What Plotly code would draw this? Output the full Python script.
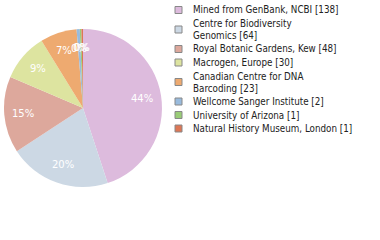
import math
import plotly.graph_objects as go

categories = [
    "Mined from GenBank, NCBI",
    "Centre for Biodiversity\nGenomics",
    "Royal Botanic Gardens, Kew",
    "Macrogen, Europe",
    "Canadian Centre for DNA\nBarcoding",
    "Wellcome Sanger Institute",
    "University of Arizona",
    "Natural History Museum, London",
]
counts = [138, 64, 48, 30, 23, 2, 1, 1]
colors = ["#ddbbdd", "#ccd8e4", "#dda89c", "#dde4a0", "#eeaa70", "#99bbdd", "#99cc77", "#dd7755"]

total = sum(counts)
pct_text = [f"{int(c * 100 // total)}%" for c in counts]

W, H = 380, 240
PX0, PX1, PY0, PY1 = 4, 162, 29, 187  # pie box in pixels
fig = go.Figure()
fig.add_trace(go.Pie(
    values=counts,
    labels=[c.replace("\n", " ") for c in categories],
    textinfo="none",
    marker=dict(colors=colors, line=dict(width=0)),
    sort=False,
    direction="clockwise",
    rotation=0,
    showlegend=False,
    hoverinfo="label+value+percent",
    domain=dict(x=[PX0 / W, PX1 / W], y=[1 - PY1 / H, 1 - PY0 / H]),
))

shapes = []
annotations = []

# percentage labels placed along each slice's mid-angle
cx, cy = (PX0 + PX1) / 2, (PY0 + PY1) / 2
R = (PX1 - PX0) / 2
cum = 0
for c, t in zip(counts, pct_text):
    mid = (cum + c / 2) / total * 2 * math.pi
    cum += c
    lx = cx + 0.76 * R * math.sin(mid)
    ly = cy - 0.76 * R * math.cos(mid)
    annotations.append(dict(
        x=lx / W, y=1 - ly / H, xref="paper", yref="paper",
        xanchor="center", yanchor="middle", showarrow=False,
        text=t, font=dict(family="DejaVu Sans", size=10, color="white"),
    ))

# custom legend
y = 10.0
for i, (name, c, col) in enumerate(zip(categories, counts, colors)):
    lines = name.split("\n")
    lines[-1] = lines[-1] + f" [{c}]"
    if i > 0:
        y += 13.5
    ys = []
    for j, ln in enumerate(lines):
        if j > 0:
            y += 12
        ys.append(y)
        annotations.append(dict(
            x=191 / W, y=1 - y / H, xref="paper", yref="paper",
            xanchor="left", yanchor="middle", showarrow=False,
            text=ln, font=dict(family="DejaVu Sans Condensed", size=9.75, color="#222222"),
        ))
    yc = sum(ys) / len(ys)
    shapes.append(dict(
        type="rect", xref="paper", yref="paper",
        x0=175 / W, x1=182 / W, y0=1 - (yc - 3.5) / H, y1=1 - (yc + 3.5) / H,
        fillcolor=col, line=dict(color="#888888", width=1),
    ))

fig.update_layout(
    width=W, height=H,
    margin=dict(l=0, r=0, t=0, b=0),
    paper_bgcolor="white", plot_bgcolor="white",
    shapes=shapes, annotations=annotations,
)

fig.write_html("out.html")
